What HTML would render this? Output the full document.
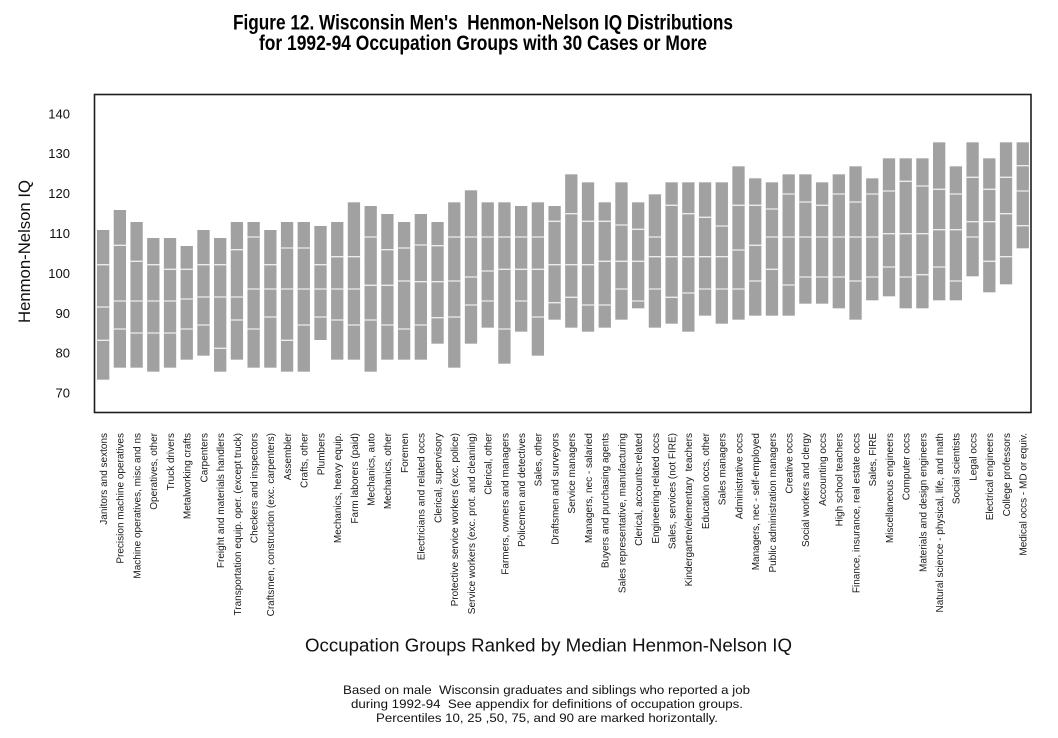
<!DOCTYPE html>
<html><head><meta charset="utf-8"><style>
html,body{margin:0;padding:0;background:#fff;}
svg{display:block;}
.b{fill:#a1a1a1;}
.s{stroke:#ebebeb;stroke-width:4;fill:none;}
.lb{font-family:"Liberation Sans",Arial,sans-serif;font-size:10px;fill:#1a1a1a;white-space:pre;}
.tk{font-family:"Liberation Sans",Arial,sans-serif;font-size:13px;fill:#111;}
</style></head><body>
<svg width="1058" height="738" viewBox="0 0 1058 738" xmlns="http://www.w3.org/2000/svg">
<rect width="1058" height="738" fill="#fff"/>
<text x="483" y="29.5" xml:space="preserve" text-anchor="middle" font-family="Liberation Sans, Arial, sans-serif" font-weight="bold" font-size="21" fill="#000" textLength="500" lengthAdjust="spacingAndGlyphs" style="white-space:pre">Figure 12. Wisconsin Men's  Henmon-Nelson IQ Distributions</text>
<text x="483" y="50" text-anchor="middle" font-family="Liberation Sans, Arial, sans-serif" font-weight="bold" font-size="21" fill="#000" textLength="448" lengthAdjust="spacingAndGlyphs">for 1992-94 Occupation Groups with 30 Cases or More</text>

<g class="tk" text-anchor="end">
<text x="70" y="118.7">140</text>
<text x="70" y="158">130</text>
<text x="70" y="198">120</text>
<text x="70" y="238">110</text>
<text x="70" y="278">100</text>
<text x="70" y="318">90</text>
<text x="70" y="357.7">80</text>
<text x="70" y="397.4">70</text>
</g>
<text transform="translate(30,251.5) rotate(-90)" text-anchor="middle" font-family="Liberation Sans, Arial, sans-serif" font-size="16.7" fill="#111" textLength="143" lengthAdjust="spacingAndGlyphs">Henmon-Nelson IQ</text>

<g transform="translate(0,90) scale(1,0.333333)">
<rect class="b" x="97" y="420" width="12.3" height="449"/><path class="s" d="M97 524h12.3M97 651h12.3M97 751h12.3"/>
<rect class="b" x="113.72" y="360" width="12.3" height="473"/><path class="s" d="M113.72 466h12.3M113.72 633h12.3M113.72 717h12.3"/>
<rect class="b" x="130.44" y="396" width="12.3" height="437"/><path class="s" d="M130.44 514h12.3M130.44 633h12.3M130.44 729h12.3"/>
<rect class="b" x="147.16" y="444" width="12.3" height="401"/><path class="s" d="M147.16 524h12.3M147.16 633h12.3M147.16 729h12.3"/>
<rect class="b" x="163.88" y="444" width="12.3" height="389"/><path class="s" d="M163.88 538h12.3M163.88 633h12.3M163.88 729h12.3"/>
<rect class="b" x="180.6" y="468" width="12.3" height="341"/><path class="s" d="M180.6 538h12.3M180.6 627h12.3M180.6 717h12.3"/>
<rect class="b" x="197.32" y="420" width="12.3" height="377"/><path class="s" d="M197.32 524h12.3M197.32 621h12.3M197.32 705h12.3"/>
<rect class="b" x="214.04" y="444" width="12.3" height="401"/><path class="s" d="M214.04 524h12.3M214.04 621h12.3M214.04 775h12.3"/>
<rect class="b" x="230.76" y="396" width="12.3" height="413"/><path class="s" d="M230.76 479h12.3M230.76 621h12.3M230.76 690h12.3"/>
<rect class="b" x="247.48" y="396" width="12.3" height="437"/><path class="s" d="M247.48 441h12.3M247.48 597h12.3M247.48 717h12.3"/>
<rect class="b" x="264.2" y="420" width="12.3" height="413"/><path class="s" d="M264.2 524h12.3M264.2 597h12.3M264.2 681h12.3"/>
<rect class="b" x="280.92" y="396" width="12.3" height="449"/><path class="s" d="M280.92 474h12.3M280.92 597h12.3M280.92 751h12.3"/>
<rect class="b" x="297.64" y="396" width="12.3" height="449"/><path class="s" d="M297.64 474h12.3M297.64 597h12.3M297.64 705h12.3"/>
<rect class="b" x="314.36" y="408" width="12.3" height="342"/><path class="s" d="M314.36 524h12.3M314.36 597h12.3M314.36 681h12.3"/>
<rect class="b" x="331.08" y="396" width="12.3" height="413"/><path class="s" d="M331.08 500h12.3M331.08 597h12.3M331.08 690h12.3"/>
<rect class="b" x="347.8" y="337" width="12.3" height="472"/><path class="s" d="M347.8 500h12.3M347.8 597h12.3M347.8 705h12.3"/>
<rect class="b" x="364.52" y="348" width="12.3" height="497"/><path class="s" d="M364.52 441h12.3M364.52 586h12.3M364.52 690h12.3"/>
<rect class="b" x="381.24" y="372" width="12.3" height="437"/><path class="s" d="M381.24 479h12.3M381.24 586h12.3M381.24 705h12.3"/>
<rect class="b" x="397.96" y="396" width="12.3" height="413"/><path class="s" d="M397.96 474h12.3M397.96 573h12.3M397.96 717h12.3"/>
<rect class="b" x="414.68" y="372" width="12.3" height="437"/><path class="s" d="M414.68 465h12.3M414.68 575h12.3M414.68 705h12.3"/>
<rect class="b" x="431.4" y="396" width="12.3" height="365"/><path class="s" d="M431.4 467h12.3M431.4 575h12.3M431.4 683h12.3"/>
<rect class="b" x="448.12" y="337" width="12.3" height="496"/><path class="s" d="M448.12 441h12.3M448.12 573h12.3M448.12 681h12.3"/>
<rect class="b" x="464.84" y="301" width="12.3" height="460"/><path class="s" d="M464.84 441h12.3M464.84 561h12.3M464.84 645h12.3"/>
<rect class="b" x="481.56" y="337" width="12.3" height="376"/><path class="s" d="M481.56 441h12.3M481.56 543h12.3M481.56 633h12.3"/>
<rect class="b" x="498.28" y="337" width="12.3" height="484"/><path class="s" d="M498.28 441h12.3M498.28 538h12.3M498.28 717h12.3"/>
<rect class="b" x="515" y="348" width="12.3" height="377"/><path class="s" d="M515 441h12.3M515 538h12.3M515 633h12.3"/>
<rect class="b" x="531.72" y="337" width="12.3" height="460"/><path class="s" d="M531.72 441h12.3M531.72 538h12.3M531.72 681h12.3"/>
<rect class="b" x="548.44" y="348" width="12.3" height="341"/><path class="s" d="M548.44 394h12.3M548.44 524h12.3M548.44 638h12.3"/>
<rect class="b" x="565.16" y="253" width="12.3" height="460"/><path class="s" d="M565.16 371h12.3M565.16 524h12.3M565.16 622h12.3"/>
<rect class="b" x="581.88" y="277" width="12.3" height="448"/><path class="s" d="M581.88 394h12.3M581.88 524h12.3M581.88 645h12.3"/>
<rect class="b" x="598.6" y="337" width="12.3" height="376"/><path class="s" d="M598.6 394h12.3M598.6 514h12.3M598.6 645h12.3"/>
<rect class="b" x="615.32" y="277" width="12.3" height="412"/><path class="s" d="M615.32 405h12.3M615.32 514h12.3M615.32 597h12.3"/>
<rect class="b" x="632.04" y="337" width="12.3" height="318"/><path class="s" d="M632.04 418h12.3M632.04 514h12.3M632.04 633h12.3"/>
<rect class="b" x="648.76" y="313" width="12.3" height="400"/><path class="s" d="M648.76 441h12.3M648.76 500h12.3M648.76 597h12.3"/>
<rect class="b" x="665.48" y="277" width="12.3" height="424"/><path class="s" d="M665.48 346h12.3M665.48 500h12.3M665.48 622h12.3"/>
<rect class="b" x="682.2" y="277" width="12.3" height="448"/><path class="s" d="M682.2 371h12.3M682.2 500h12.3M682.2 609h12.3"/>
<rect class="b" x="698.92" y="277" width="12.3" height="400"/><path class="s" d="M698.92 382h12.3M698.92 500h12.3M698.92 597h12.3"/>
<rect class="b" x="715.64" y="277" width="12.3" height="424"/><path class="s" d="M715.64 408h12.3M715.64 500h12.3M715.64 597h12.3"/>
<rect class="b" x="732.36" y="229" width="12.3" height="460"/><path class="s" d="M732.36 346h12.3M732.36 480h12.3M732.36 597h12.3"/>
<rect class="b" x="749.08" y="265" width="12.3" height="412"/><path class="s" d="M749.08 346h12.3M749.08 466h12.3M749.08 573h12.3"/>
<rect class="b" x="765.8" y="277" width="12.3" height="400"/><path class="s" d="M765.8 357h12.3M765.8 441h12.3M765.8 538h12.3"/>
<rect class="b" x="782.52" y="253" width="12.3" height="424"/><path class="s" d="M782.52 312h12.3M782.52 441h12.3M782.52 585h12.3"/>
<rect class="b" x="799.24" y="253" width="12.3" height="388"/><path class="s" d="M799.24 336h12.3M799.24 441h12.3M799.24 561h12.3"/>
<rect class="b" x="815.96" y="277" width="12.3" height="364"/><path class="s" d="M815.96 346h12.3M815.96 441h12.3M815.96 561h12.3"/>
<rect class="b" x="832.68" y="253" width="12.3" height="402"/><path class="s" d="M832.68 312h12.3M832.68 441h12.3M832.68 561h12.3"/>
<rect class="b" x="849.4" y="229" width="12.3" height="460"/><path class="s" d="M849.4 336h12.3M849.4 441h12.3M849.4 573h12.3"/>
<rect class="b" x="866.12" y="265" width="12.3" height="366"/><path class="s" d="M866.12 312h12.3M866.12 441h12.3M866.12 561h12.3"/>
<rect class="b" x="882.84" y="205" width="12.3" height="414"/><path class="s" d="M882.84 303h12.3M882.84 431h12.3M882.84 531h12.3"/>
<rect class="b" x="899.56" y="205" width="12.3" height="450"/><path class="s" d="M899.56 274h12.3M899.56 431h12.3M899.56 561h12.3"/>
<rect class="b" x="916.28" y="205" width="12.3" height="450"/><path class="s" d="M916.28 288h12.3M916.28 431h12.3M916.28 554h12.3"/>
<rect class="b" x="933" y="157" width="12.3" height="474"/><path class="s" d="M933 298h12.3M933 419h12.3M933 531h12.3"/>
<rect class="b" x="949.72" y="229" width="12.3" height="402"/><path class="s" d="M949.72 312h12.3M949.72 419h12.3M949.72 573h12.3"/>
<rect class="b" x="966.44" y="157" width="12.3" height="402"/><path class="s" d="M966.44 262h12.3M966.44 395h12.3M966.44 441h12.3"/>
<rect class="b" x="983.16" y="205" width="12.3" height="402"/><path class="s" d="M983.16 298h12.3M983.16 395h12.3M983.16 514h12.3"/>
<rect class="b" x="999.88" y="157" width="12.3" height="426"/><path class="s" d="M999.88 262h12.3M999.88 371h12.3M999.88 500h12.3"/>
<rect class="b" x="1016.6" y="157" width="12.3" height="318"/><path class="s" d="M1016.6 227h12.3M1016.6 303h12.3M1016.6 407h12.3"/>
</g>

<rect x="94.5" y="94.5" width="936.5" height="318" fill="none" stroke="#1e1e1e" stroke-width="1.6"/>

<g class="lb" text-anchor="end">
<text transform="translate(107,433) rotate(-90)">Janitors and sextons</text>
<text transform="translate(123.72,433) rotate(-90)">Precision machine operatives</text>
<text transform="translate(140.44,433) rotate(-90)">Machine operatives, misc and ns</text>
<text transform="translate(157.16,433) rotate(-90)">Operatives, other</text>
<text transform="translate(173.88,433) rotate(-90)">Truck drivers</text>
<text transform="translate(190.6,433) rotate(-90)">Metalworking crafts</text>
<text transform="translate(207.32,433) rotate(-90)">Carpenters</text>
<text transform="translate(224.04,433) rotate(-90)">Freight and materials handlers</text>
<text transform="translate(240.76,433) rotate(-90)">Transportation equip. oper. (except truck)</text>
<text transform="translate(257.48,433) rotate(-90)">Checkers and inspectors</text>
<text transform="translate(274.2,433) rotate(-90)">Craftsmen, construction (exc. carpenters)</text>
<text transform="translate(290.92,433) rotate(-90)">Assembler</text>
<text transform="translate(307.64,433) rotate(-90)">Crafts, other</text>
<text transform="translate(324.36,433) rotate(-90)">Plumbers</text>
<text transform="translate(341.08,433) rotate(-90)">Mechanics, heavy equip.</text>
<text transform="translate(357.8,433) rotate(-90)">Farm laborers (paid)</text>
<text transform="translate(374.52,433) rotate(-90)">Mechanics, auto</text>
<text transform="translate(391.24,433) rotate(-90)">Mechanics, other</text>
<text transform="translate(407.96,433) rotate(-90)">Foremen</text>
<text transform="translate(424.68,433) rotate(-90)">Electricians and related occs</text>
<text transform="translate(441.4,433) rotate(-90)">Clerical, supervisory</text>
<text transform="translate(458.12,433) rotate(-90)">Protective service workers (exc. police)</text>
<text transform="translate(474.84,433) rotate(-90)">Service workers (exc. prot. and cleaning)</text>
<text transform="translate(491.56,433) rotate(-90)">Clerical, other</text>
<text transform="translate(508.28,433) rotate(-90)">Farmers, owners and managers</text>
<text transform="translate(525,433) rotate(-90)">Policemen and detectives</text>
<text transform="translate(541.72,433) rotate(-90)">Sales, other</text>
<text transform="translate(558.44,433) rotate(-90)">Draftsmen and surveyors</text>
<text transform="translate(575.16,433) rotate(-90)">Service managers</text>
<text transform="translate(591.88,433) rotate(-90)">Managers, nec - salaried</text>
<text transform="translate(608.6,433) rotate(-90)">Buyers and purchasing agents</text>
<text transform="translate(625.32,433) rotate(-90)">Sales representative, manufacturing</text>
<text transform="translate(642.04,433) rotate(-90)">Clerical, accounts-related</text>
<text transform="translate(658.76,433) rotate(-90)">Engineering-related occs</text>
<text transform="translate(675.48,433) rotate(-90)">Sales, services (not FIRE)</text>
<text transform="translate(692.2,433) rotate(-90)" xml:space="preserve">Kindergarten/elementary  teachers</text>
<text transform="translate(708.92,433) rotate(-90)">Education occs, other</text>
<text transform="translate(725.64,433) rotate(-90)">Sales managers</text>
<text transform="translate(742.36,433) rotate(-90)">Administrative occs</text>
<text transform="translate(759.08,433) rotate(-90)">Managers, nec - self-employed</text>
<text transform="translate(775.8,433) rotate(-90)">Public administration managers</text>
<text transform="translate(792.52,433) rotate(-90)">Creative occs</text>
<text transform="translate(809.24,433) rotate(-90)">Social workers and clergy</text>
<text transform="translate(825.96,433) rotate(-90)">Accounting occs</text>
<text transform="translate(842.68,433) rotate(-90)">High school teachers</text>
<text transform="translate(859.4,433) rotate(-90)">Finance, insurance, real estate occs</text>
<text transform="translate(876.12,433) rotate(-90)">Sales, FIRE</text>
<text transform="translate(892.84,433) rotate(-90)">Miscellaneous engineers</text>
<text transform="translate(909.56,433) rotate(-90)">Computer occs</text>
<text transform="translate(926.28,433) rotate(-90)">Materials and design engineers</text>
<text transform="translate(943,433) rotate(-90)">Natural science - physical, life, and math</text>
<text transform="translate(959.72,433) rotate(-90)">Social scientists</text>
<text transform="translate(976.44,433) rotate(-90)">Legal occs</text>
<text transform="translate(993.16,433) rotate(-90)">Electrical engineers</text>
<text transform="translate(1009.88,433) rotate(-90)">College professors</text>
<text transform="translate(1026.6,433) rotate(-90)">Medical occs - MD or equiv.</text>
</g>

<text x="548.5" y="651.5" text-anchor="middle" font-family="Liberation Sans, Arial, sans-serif" font-size="18.7" fill="#111" textLength="487" lengthAdjust="spacingAndGlyphs">Occupation Groups Ranked by Median Henmon-Nelson IQ</text>

<g font-family="Liberation Sans, Arial, sans-serif" font-size="12.4" fill="#111" text-anchor="middle" style="white-space:pre">
<text x="546.5" y="694" xml:space="preserve" textLength="407" lengthAdjust="spacingAndGlyphs">Based on male  Wisconsin graduates and siblings who reported a job</text>
<text x="547" y="708" xml:space="preserve" textLength="392" lengthAdjust="spacingAndGlyphs">during 1992-94  See appendix for definitions of occupation groups.</text>
<text x="547" y="722" textLength="342" lengthAdjust="spacingAndGlyphs">Percentiles 10, 25 ,50, 75, and 90 are marked horizontally.</text>
</g>
</svg>
</body></html>
